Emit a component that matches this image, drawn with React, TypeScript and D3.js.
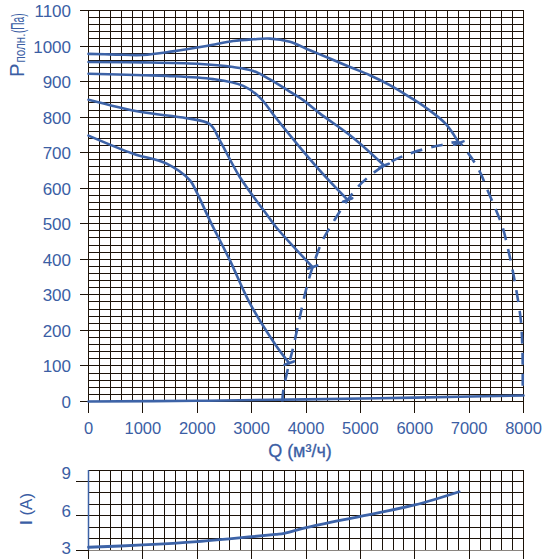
import * as d3 from 'd3';

// оси
const Q_TICKS = [0, 1000, 2000, 3000, 4000, 5000, 6000, 7000, 8000];
const P_TICKS = [0, 100, 200, 300, 400, 500, 600, 700, 800, 900, 1000, 1100];
const I_TICKS = [3, 6, 9];

// P(Q), пять характеристик сверху вниз
const C1_Q = [0, 500, 1000, 1550, 2170, 2660, 3030, 3336, 3704, 4072, 4439, 4807, 5175, 5542, 5900, 6200, 6570, 6811];
const C1_P = [978, 976, 975, 985, 1000, 1014, 1019, 1021, 1012, 988, 965, 941, 918, 890, 857, 827, 781, 727];
const C2_Q = [0, 1000, 2000, 2660, 3030, 3336, 3700, 3949, 4240, 4860, 5437];
const C2_P = [955, 954, 950, 941, 930, 906, 872, 848, 812, 743, 664];
const C3_Q = [0, 1000, 1440, 2290, 2846, 3153, 3441, 3938, 4366, 4765];
const C3_P = [922, 918, 916, 907, 888, 855, 799, 706, 631, 567];
const C4_Q = [0, 947, 1805, 2233, 2417, 2785, 3336, 3447, 4121];
const C4_P = [849, 815, 797, 780, 734, 631, 514, 491, 378];
const C5_Q = [0, 823, 1437, 1866, 1989, 2233, 2601, 2969, 3441, 3691];
const C5_P = [748, 697, 669, 622, 589, 509, 397, 276, 159, 108];

// граница рабочей зоны (пунктир)
const DASH_Q = [3565, 3580, 3691, 3753, 3875, 3998, 4121, 4305, 4518, 4765, 5040, 5437, 5897, 6449, 6811, 6971, 7184, 7368, 7522, 7614, 7735, 7858, 7950, 7982, 7985];
const DASH_P = [0, 28, 108, 145, 229, 313, 378, 453, 509, 567, 617, 664, 697, 720, 728, 701, 650, 584, 528, 491, 416, 322, 229, 136, 17];

// нижняя линия
const ZERO_Q = [0, 2000, 4000, 6000, 8000];
const ZERO_P = [0, 2, 6, 11, 17];

// ток I(Q)
const I_Q = [0, 1000, 2000, 3000, 3441, 3600, 4000, 5000, 6000, 6816];
const I_A = [3.24, 3.44, 3.73, 4.16, 4.37, 4.46, 4.95, 5.95, 6.94, 8.1];

const BLUE = '#3d63a7';
const TEXT = '#3b5ea4';
const GRID = '#1c1208';
const FONT = '"Liberation Sans", Arial, Helvetica, sans-serif';

const x = d3.scaleLinear().domain([0, 8000]).range([88.5, 523.5]);
const yP = d3.scaleLinear().domain([0, 1100]).range([401.5, 10.5]);
const yI = d3.scaleLinear().domain([3, 10]).range([550, 470]);
const yILabel = d3.scaleLinear().domain([3, 9]).range([548.5, 473.5]);

const zip = (a: number[], b: number[]) => a.map((v, i) => [v, b[i]] as [number, number]);

const lineP = d3
  .line<[number, number]>()
  .x((d) => x(d[0]))
  .y((d) => yP(d[1]))
  .curve(d3.curveCatmullRom.alpha(0.5));

const lineI = d3
  .line<[number, number]>()
  .x((d) => x(d[0]))
  .y((d) => yI(d[1]))
  .curve(d3.curveCatmullRom.alpha(0.5));

const curves = [zip(C1_Q, C1_P), zip(C2_Q, C2_P), zip(C3_Q, C3_P), zip(C4_Q, C4_P), zip(C5_Q, C5_P)];

export default function App() {
  const gridQ = d3.range(0, 8001, 200);
  const gridP = d3.range(0, 1101, 20);
  const gridI = d3.range(3, 10.01, 1);
  const caps = curves.map((c) => c[c.length - 1]);

  return (
    <svg
      width={552}
      height={559}
      viewBox="0 0 552 559"
      style={{ position: 'absolute', left: 0, top: 0, background: '#fff' }}
      fontFamily={FONT}
    >
      {/* сетка P */}
      <g stroke={GRID} strokeWidth={1} shapeRendering="crispEdges">
        {gridQ.map((q) => (
          <line key={'v' + q} x1={x(q)} x2={x(q)} y1={yP(1100)} y2={yP(0)} />
        ))}
        {gridP.map((p) => (
          <line key={'h' + p} x1={x(0)} x2={x(8000)} y1={yP(p)} y2={yP(p)} />
        ))}
        {P_TICKS.map((p) => (
          <line key={'ty' + p} x1={80} x2={x(0)} y1={yP(p)} y2={yP(p)} />
        ))}
        {Q_TICKS.map((q) => (
          <line key={'tx' + q} x1={x(q)} x2={x(q)} y1={yP(0)} y2={yP(0) + 11} />
        ))}
      </g>

      {/* сетка I */}
      <g stroke={GRID} strokeWidth={1} shapeRendering="crispEdges">
        {gridQ.map((q) => (
          <line key={'iv' + q} x1={x(q)} x2={x(q)} y1={yI(10)} y2={yI(3)} />
        ))}
        {gridI.map((v) => (
          <line
            key={'ih' + v}
            x1={x(0)}
            x2={x(8000)}
            y1={yI(v)}
            y2={yI(v)}
            stroke={v === 3 ? '#8a8580' : GRID}
          />
        ))}
        {I_TICKS.map((v) => (
          <line key={'ity' + v} x1={76} x2={x(0)} y1={yI(v)} y2={yI(v)} />
        ))}
        {Q_TICKS.map((q) => (
          <line key={'itx' + q} x1={x(q)} x2={x(q)} y1={yI(3)} y2={yI(3) + 11} />
        ))}
      </g>
      <line x1={x(0)} x2={x(0)} y1={yI(10)} y2={yI(3)} stroke={BLUE} strokeWidth={1.5} />

      {/* кривые */}
      <g fill="none" stroke={BLUE} strokeWidth={2.6} strokeLinecap="round">
        <path d={lineP(zip(ZERO_Q, ZERO_P)) ?? ''} />
        {curves.map((c, i) => (
          <path key={i} d={lineP(c) ?? ''} />
        ))}
        <path d={lineP(zip(DASH_Q, DASH_P)) ?? ''} strokeDasharray="12 9" strokeLinecap="butt" />
        {caps.map((d, i) => (
          <line
            key={'cap' + i}
            x1={x(d[0]) - 4.7}
            x2={x(d[0]) + 4.7}
            y1={yP(d[1]) + 1.7}
            y2={yP(d[1]) - 1.7}
          />
        ))}
        <path d={lineI(zip(I_Q, I_A)) ?? ''} strokeWidth={2.8} />
      </g>

      {/* подписи */}
      <g fill={TEXT} fontSize={17}>
        {P_TICKS.map((p) => (
          <text key={'ly' + p} x={71} y={yP(p) + 1} textAnchor="end" dominantBaseline="central">
            {p}
          </text>
        ))}
        {Q_TICKS.map((q) => (
          <text key={'lx' + q} x={x(q)} y={433.5} textAnchor="middle" fontSize={16.5}>
            {q}
          </text>
        ))}
        {I_TICKS.map((v) => (
          <text key={'li' + v} x={71} y={yILabel(v)} textAnchor="end" dominantBaseline="central">
            {v}
          </text>
        ))}
        <text x={300} y={457} textAnchor="middle" fontSize={18} stroke={TEXT} strokeWidth={0.3}>
          Q (м³/ч)
        </text>
        <g transform="translate(23.5,77) rotate(-90)">
          <text x={0} y={0} fontSize={20} textLength={13.5} lengthAdjust="spacingAndGlyphs">
            P
          </text>
          <text x={14.5} y={1} fontSize={15.5} textLength={29} lengthAdjust="spacingAndGlyphs">
            полн.
          </text>
          <text x={44} y={0} fontSize={18} textLength={19.5} lengthAdjust="spacingAndGlyphs">
            (Па)
          </text>
        </g>
        <text transform="translate(31.5,525) rotate(-90)" fontSize={17}>
          <tspan fontWeight="bold">I</tspan> (A)
        </text>
      </g>
    </svg>
  );
}
